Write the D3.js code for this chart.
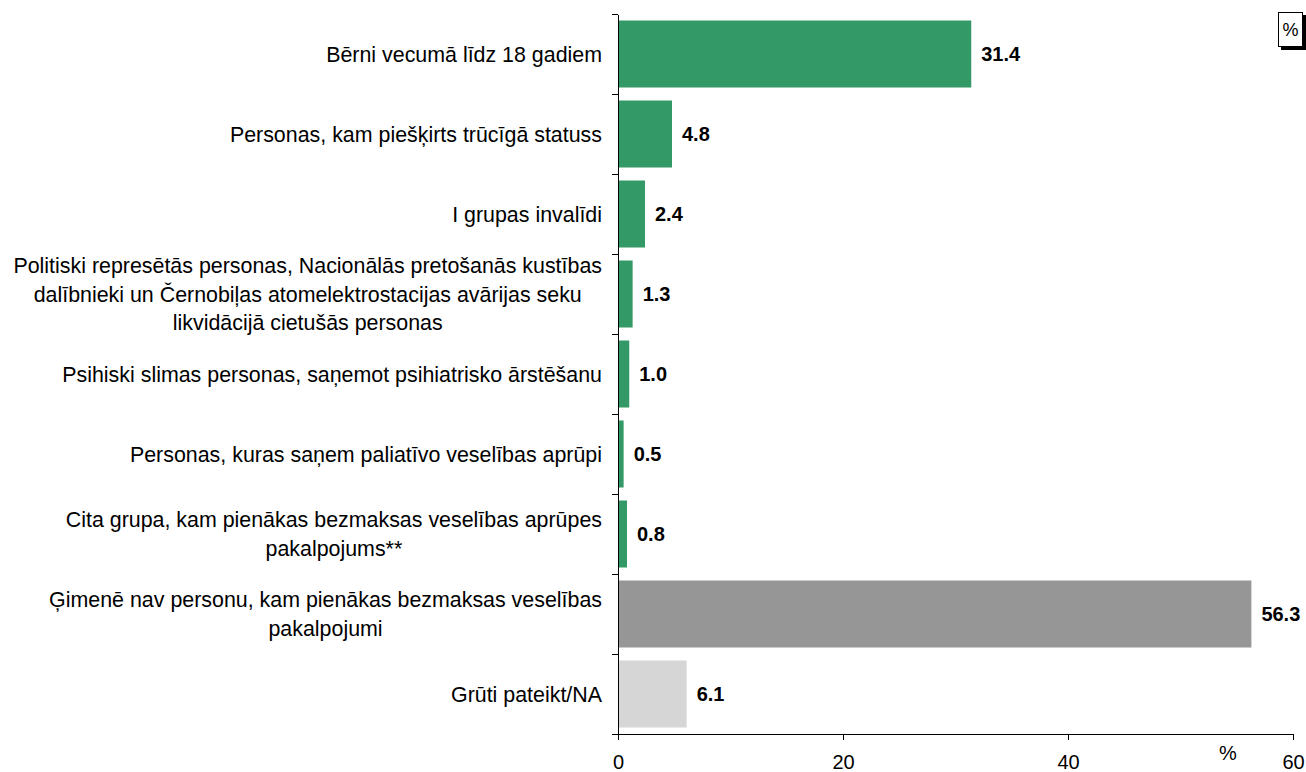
<!DOCTYPE html>
<html>
<head>
<meta charset="utf-8">
<script src="https://cdn.jsdelivr.net/npm/d3@7"></script>
<style>
  body { margin: 0; background: #fff; }
  svg text { font-family: "Liberation Sans", Arial, sans-serif; fill: #000; }
</style>
</head>
<body>
<div id="chart"></div>
<script>
// categories, line breaks as in the original chart
var categories = [
  ["Bērni vecumā līdz 18 gadiem"],
  ["Personas, kam piešķirts trūcīgā statuss"],
  ["I grupas invalīdi"],
  ["Politiski represētās personas, Nacionālās pretošanās kustības",
   "dalībnieki un Černobiļas atomelektrostacijas avārijas seku",
   "likvidācijā cietušās personas"],
  ["Psihiski slimas personas, saņemot psihiatrisko ārstēšanu"],
  ["Personas, kuras saņem paliatīvo veselības aprūpi"],
  ["Cita grupa, kam pienākas bezmaksas veselības aprūpes", "pakalpojums**"],
  ["Ģimenē nav personu, kam pienākas bezmaksas veselības", "pakalpojumi"],
  ["Grūti pateikt/NA"]
];
var values = [31.4, 4.8, 2.4, 1.3, 1.0, 0.5, 0.8, 56.3, 6.1];
var barGroup = ["g", "g", "g", "g", "g", "g", "g", "none", "na"];
var xTicks = [0, 20, 40, 60];

var colors = { g: "#339966", none: "#969696", na: "#d6d6d6" };

var totalWidth = 1306, totalHeight = 772;
var plotLeft = 618, plotRight = 1293, plotTop = 14, plotBottom = 734;

var svg = d3.select("#chart").append("svg")
  .attr("width", totalWidth)
  .attr("height", totalHeight);

var x = d3.scaleLinear().domain([0, 60]).range([plotLeft, plotRight]);
var ids = d3.range(values.length);
var y = d3.scaleBand()
  .domain(ids)
  .range([plotTop, plotBottom])
  .paddingInner(0.1625)
  .paddingOuter(0.08125);

// bars
svg.append("g")
  .selectAll("rect")
  .data(ids)
  .enter()
  .append("rect")
    .attr("x", x(0))
    .attr("y", function(i) { return y(i); })
    .attr("width", function(i) { return x(values[i]) - x(0); })
    .attr("height", y.bandwidth())
    .style("fill", function(i) { return colors[barGroup[i]]; });

// value labels
svg.append("g")
  .selectAll("text")
  .data(ids)
  .enter()
  .append("text")
    .attr("x", function(i) { return x(values[i]) + 10; })
    .attr("y", function(i) { return y(i) + y.bandwidth() / 2; })
    .attr("dy", "0.36em")
    .style("font-size", "20px")
    .style("font-weight", "bold")
    .text(function(i) { return d3.format(".1f")(values[i]); });

// y axis: ticks between categories
var yEdge = d3.scaleLinear().domain([0, values.length]).range([plotTop, plotBottom]);
var yAxis = svg.append("g")
  .attr("transform", "translate(" + plotLeft + ",0)")
  .call(d3.axisLeft(yEdge).tickValues(d3.range(values.length + 1)).tickFormat("").tickSize(6).tickSizeOuter(0));
yAxis.selectAll("path, line").attr("stroke", "#000").attr("shape-rendering", "crispEdges");

// x axis
var xAxis = svg.append("g")
  .attr("transform", "translate(0," + plotBottom + ")")
  .call(d3.axisBottom(x).tickValues(xTicks).tickSize(6).tickSizeOuter(0).tickPadding(15));
xAxis.selectAll("path, line").attr("stroke", "#000").attr("shape-rendering", "crispEdges");
xAxis.selectAll("text")
  .style("font-size", "20px")
  .style("font-family", "'Liberation Sans', Arial, sans-serif")
  .attr("fill", "#000");

svg.append("text")
  .attr("x", 1228).attr("y", 753)
  .attr("text-anchor", "middle")
  .attr("dy", "0.36em")
  .style("font-size", "20px")
  .text("%");

// category labels, block right aligned, lines centred
var lineH = 28.5, labelRight = 602;
var labels = svg.append("g").selectAll("text")
  .data(ids)
  .enter()
  .append("text")
    .style("font-size", "21.4px")
    .attr("text-anchor", "middle");

labels.each(function(i) {
  var t = d3.select(this);
  var lines = categories[i];
  var cy = y(i) + y.bandwidth() / 2;
  lines.forEach(function(s, k) {
    t.append("tspan")
      .attr("y", cy + (k - (lines.length - 1) / 2) * lineH)
      .attr("dy", "0.36em")
      .text(s);
  });
  var w = d3.max(t.selectAll("tspan").nodes(), function(n) { return n.getComputedTextLength(); });
  t.selectAll("tspan").attr("x", labelRight - w / 2);
});

// unit box top right
var box = svg.append("g").attr("transform", "translate(1278,12)");
box.append("rect").attr("x", 3).attr("y", 3).attr("width", 25).attr("height", 35).attr("fill", "#000");
box.append("rect").attr("x", 0.5).attr("y", 0.5).attr("width", 24).attr("height", 34)
  .attr("fill", "#fff").attr("stroke", "#000").attr("stroke-width", 1);
box.append("text").attr("x", 12.5).attr("y", 18).attr("dy", "0.36em")
  .attr("text-anchor", "middle").style("font-size", "18px").text("%");
</script>
</body>
</html>
